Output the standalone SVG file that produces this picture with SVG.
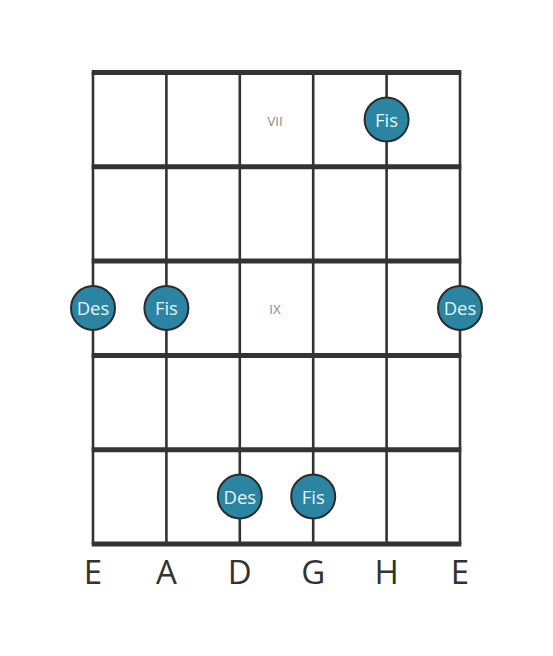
<svg xmlns="http://www.w3.org/2000/svg" width="553" height="656" viewBox="0 0 553 656">
<style>
.fret{stroke:#333;stroke-width:5;}
.str{stroke:#333;stroke-width:2.6;}
.dot{fill:#2a84a2;stroke:#2b2b2b;stroke-width:2;}
.dt{font-family:"Open Sans",sans-serif;font-size:18.5px;fill:#e4f6fa;text-anchor:middle;dominant-baseline:central;}
.pos{font-family:"Open Sans",sans-serif;font-size:13.5px;fill:#8a8a8a;text-anchor:middle;dominant-baseline:central;}
.sn{font-family:"Open Sans",sans-serif;font-size:33px;fill:#333;text-anchor:middle;}
</style>
<rect width="553" height="656" fill="#fff"/>
<g id="fretboard">
<line class="str" x1="93" y1="72.5" x2="93" y2="544"/>
<line class="str" x1="166.4" y1="72.5" x2="166.4" y2="544"/>
<line class="str" x1="239.8" y1="72.5" x2="239.8" y2="544"/>
<line class="str" x1="313.2" y1="72.5" x2="313.2" y2="544"/>
<line class="str" x1="386.6" y1="72.5" x2="386.6" y2="544"/>
<line class="str" x1="460" y1="72.5" x2="460" y2="544"/>
<line class="fret" x1="91.7" y1="72.5" x2="461.3" y2="72.5"/>
<line class="fret" x1="91.7" y1="166.8" x2="461.3" y2="166.8"/>
<line class="fret" x1="91.7" y1="261.1" x2="461.3" y2="261.1"/>
<line class="fret" x1="91.7" y1="355.4" x2="461.3" y2="355.4"/>
<line class="fret" x1="91.7" y1="449.7" x2="461.3" y2="449.7"/>
<line class="fret" x1="91.7" y1="544" x2="461.3" y2="544"/>
<text class="pos" x="275" y="120.5">VII</text>
<text class="pos" x="275" y="309">IX</text>
</g>
<g id="n1"><circle class="dot" cx="386.6" cy="119.5" r="22"/><text class="dt" x="386.6" y="119">Fis</text></g>
<g id="n2"><circle class="dot" cx="93" cy="308" r="22"/><text class="dt" x="93" y="307.5">Des</text></g>
<g id="n3"><circle class="dot" cx="166.4" cy="308" r="22"/><text class="dt" x="166.4" y="307.5">Fis</text></g>
<g id="n4"><circle class="dot" cx="460" cy="308" r="22"/><text class="dt" x="460" y="307.5">Des</text></g>
<g id="n5"><circle class="dot" cx="239.8" cy="496.5" r="22"/><text class="dt" x="239.8" y="496">Des</text></g>
<g id="n6"><circle class="dot" cx="313.2" cy="496.5" r="22"/><text class="dt" x="313.2" y="496">Fis</text></g>
<g id="strings">
<text class="sn" x="93" y="584">E</text>
<text class="sn" x="166.4" y="584">A</text>
<text class="sn" x="239.8" y="584">D</text>
<text class="sn" x="313.2" y="584">G</text>
<text class="sn" x="386.6" y="584">H</text>
<text class="sn" x="460" y="584">E</text>
</g>
</svg>
